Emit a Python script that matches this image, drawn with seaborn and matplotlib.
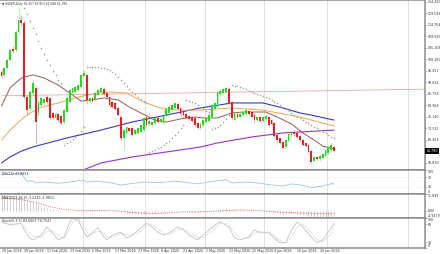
import numpy as np
import pandas as pd
import matplotlib
matplotlib.use("Agg")
import matplotlib.pyplot as plt
import matplotlib.transforms as mtransforms
import seaborn as sns

# ---- daily candles (one entry per trading day) ----
opens = [95.0, 93.8, 96.7, 100.0, 104.6, 104.2, 111.8, 116.9, 115.7, 84.5,
         79.5, 86.0, 88.3, 77.8, 81.1, 82.0, 84.5, 84.0, 77.8, 75.7,
         77.3, 76.5, 74.0, 78.2, 82.4, 86.2, 86.6, 87.4, 88.7, 93.3,
         93.7, 83.0, 84.0, 83.5, 85.5, 86.8, 88.0, 86.2, 84.5, 82.2,
         82.0, 79.9, 76.1, 67.3, 69.4, 71.5, 71.5, 69.0, 69.4, 69.8,
         70.6, 76.1, 73.0, 72.7, 73.6, 75.7, 74.0, 73.6, 76.5, 77.8,
         79.0, 80.0, 81.6, 79.9, 78.6, 77.3, 76.5, 76.1, 75.7, 73.6,
         71.5, 72.7, 74.0, 74.4, 76.1, 79.5, 80.3, 85.8, 86.2, 86.6,
         88.0, 82.4, 75.0, 77.3, 76.1, 76.9, 77.3, 78.6, 78.2, 77.0,
         74.8, 76.1, 74.4, 75.2, 76.1, 74.8, 73.6, 68.5, 67.3, 65.6,
         63.5, 66.0, 68.5, 69.8, 69.4, 68.1, 66.4, 65.2, 64.4, 61.8,
         57.6, 59.3, 58.4, 59.0, 59.7, 60.9, 62.2, 63.457]
closes = [93.5, 96.7, 100.0, 104.2, 104.0, 111.8, 116.9, 115.7, 84.5, 79.0,
          86.6, 90.4, 74.0, 82.4, 84.0, 83.7, 82.4, 75.7, 75.7, 77.5,
          74.8, 73.6, 79.0, 84.1, 87.4, 88.3, 88.7, 89.5, 93.7, 94.6,
          83.2, 84.1, 83.0, 86.0, 87.4, 88.3, 85.8, 84.5, 81.1, 80.3,
          79.5, 77.0, 67.3, 70.6, 71.9, 70.2, 68.5, 70.6, 71.5, 72.7,
          75.7, 72.7, 74.4, 74.0, 75.7, 74.0, 75.3, 76.5, 79.5, 80.3,
          81.1, 82.0, 79.5, 77.3, 76.9, 75.7, 75.3, 74.4, 72.7, 71.5,
          73.2, 74.8, 75.7, 77.0, 81.1, 82.0, 86.6, 87.0, 87.8, 88.3,
          82.0, 75.7, 77.8, 76.1, 77.5, 78.2, 79.0, 77.3, 76.1, 74.8,
          76.1, 74.4, 76.0, 76.5, 72.7, 73.2, 68.1, 66.4, 65.2, 63.1,
          66.4, 69.0, 69.8, 68.9, 67.7, 66.4, 64.4, 63.9, 61.4, 57.2,
          59.3, 58.6, 59.7, 60.5, 62.2, 63.5, 64.4, 61.78]
highs = [96.2, 97.4, 100.8, 105.0, 106.0, 112.6, 121.9, 119.0, 117.0, 85.5,
         87.5, 92.0, 89.0, 83.2, 84.8, 84.5, 85.3, 84.6, 78.4, 78.2,
         77.9, 77.0, 79.6, 84.8, 88.0, 88.9, 89.3, 90.1, 94.3, 95.9,
         94.2, 84.7, 84.6, 86.6, 88.0, 89.0, 88.6, 86.8, 85.0, 82.8,
         82.6, 80.5, 76.7, 71.2, 72.5, 72.1, 72.0, 71.2, 72.1, 73.3,
         76.3, 76.7, 75.0, 74.6, 76.3, 76.3, 75.9, 77.1, 80.1, 80.9,
         81.7, 82.6, 82.2, 80.5, 79.2, 77.9, 77.1, 76.7, 76.3, 74.2,
         73.8, 75.4, 76.3, 77.6, 81.7, 82.6, 87.2, 87.6, 88.4, 89.0,
         88.6, 83.0, 78.4, 77.9, 78.1, 78.8, 79.6, 79.2, 78.8, 77.6,
         76.7, 76.7, 76.6, 77.1, 76.7, 75.4, 74.2, 69.1, 67.9, 66.2,
         67.0, 69.6, 70.4, 70.4, 70.0, 68.7, 67.0, 65.8, 65.0, 62.4,
         59.9, 59.9, 60.3, 61.1, 62.8, 64.1, 65.0, 63.853]
lows = [92.6, 93.0, 96.0, 99.5, 103.2, 103.6, 111.0, 114.5, 83.5, 77.0,
        78.8, 85.2, 65.2, 76.5, 80.2, 81.0, 81.6, 74.8, 75.0, 75.0,
        74.0, 72.8, 73.2, 77.6, 81.8, 85.6, 86.0, 86.8, 88.2, 92.7,
        81.5, 82.4, 82.4, 83.0, 85.0, 86.3, 85.2, 84.0, 80.5, 79.7,
        79.0, 76.4, 66.5, 62.2, 68.8, 69.6, 68.0, 68.4, 68.9, 69.2,
        70.0, 72.1, 72.4, 72.1, 73.0, 73.4, 73.4, 73.0, 76.0, 77.2,
        78.4, 79.4, 79.0, 76.7, 76.3, 75.1, 74.7, 73.8, 72.1, 70.9,
        70.9, 72.1, 73.4, 73.8, 75.5, 78.9, 79.7, 85.2, 85.6, 86.0,
        81.4, 75.0, 74.4, 75.5, 75.5, 76.3, 76.7, 76.7, 75.5, 74.2,
        74.2, 73.8, 73.8, 74.6, 72.1, 72.6, 67.5, 65.8, 64.6, 62.5,
        62.9, 65.4, 67.9, 68.3, 67.1, 65.8, 63.8, 63.3, 60.8, 56.83,
        57.0, 58.0, 57.8, 58.4, 59.1, 60.3, 61.6, 61.688]

# ---- moving averages (vertices) ----
brown_x = [0, 3, 7, 11, 15, 20, 24, 28, 32, 36, 41, 45, 49, 54, 58, 63, 68, 71, 76, 81,
           85, 90, 93, 97, 102, 106, 110, 113, 117]
brown_ma = [80.7, 88.3, 92.5, 93.8, 92.5, 89.5, 86.2, 82.8, 83.3, 84.1, 83.3, 80.3, 77.8, 74.8,
            74.0, 75.3, 76.1, 75.7, 75.7, 77.8, 78.2, 78.2, 78.2, 76.1, 73.2, 69.4, 66.4, 63.9, 62.7]
orange_x = [0, 3, 8, 13, 20, 27, 34, 38, 44, 50, 56, 62, 70, 81, 92, 105, 117]
orange_ma = [66.4, 70.6, 76.1, 79.9, 82.0, 84.5, 86.2, 86.6, 86.2, 82.4, 79.9, 79.0, 79.0,
             79.9, 79.0, 76.1, 72.3]
blue_x = [0, 3, 7, 11, 23, 35, 46, 58, 70, 81, 92, 99, 105, 109, 117]
blue_ma = [56.8, 59.3, 61.8, 63.5, 67.3, 70.6, 74.0, 76.9, 79.9, 82.0, 82.0, 79.9, 77.8, 76.9, 74.8]
purple_x = [28, 35, 46, 58, 70, 76, 88, 99, 105, 117]
purple_ma = [53.5, 56.8, 59.3, 61.4, 63.5, 65.2, 67.7, 69.4, 69.8, 70.6]
trend_x = [0, 149]
trend = [85.0, 87.8]

# parabolic SAR dots, bars 8..117
sar_first = 8
sar = [121.9, 119.3, 116.5, 113.6, 110.8, 108.0, 105.3, 102.7, 100.2, 97.8, 95.6, 93.6, 91.8, 90.2,
       64.5, 65.2, 66.0, 66.8, 67.8, 69.0, 70.4, 72.0,
       97.2, 97.2, 97.1, 97.0, 96.9, 96.8, 96.6, 96.3, 95.8, 95.0, 94.0, 92.8, 91.5, 90.2, 89.0,
       87.8, 86.7, 85.6, 84.6, 83.7, 82.9, 82.1,
       61.4, 61.8, 62.3, 62.9, 63.5, 64.2, 65.0, 66.0, 67.2, 68.6, 70.0, 71.4, 72.6,
       83.3, 83.0, 82.5, 82.0, 81.2, 80.3, 79.5, 78.7, 78.0,
       71.0, 71.4, 72.0, 72.8, 74.0, 75.4, 77.0,
       89.6, 89.3, 89.0, 88.6, 88.3, 87.8, 87.2, 86.6, 86.2, 85.8, 85.4, 85.0, 84.5, 84.1, 83.4,
       82.6, 81.8, 81.0, 80.2, 79.4, 78.6, 77.8, 77.0, 76.2, 75.6, 75.0, 74.2, 73.5, 72.7, 72.0,
       71.3, 70.6, 69.9, 69.2, 68.5, 67.9, 67.3]

# ---- RSI(14) ----
rsi_x = [0, 3, 7, 9, 11, 12, 15, 20, 22, 29, 30, 33, 38, 42, 46, 50, 56, 61, 65, 69,
         74, 79, 81, 86, 90, 95, 99, 102, 106, 109, 113, 116, 117]
rsi = [79, 83, 85, 52, 56, 46, 50, 45, 47, 58, 50, 53, 48, 37, 44, 50, 47, 54, 48, 42,
       52, 60, 46, 50, 46, 38, 33, 42, 36, 27, 33, 43, 41.8854]

# ---- MACD(12,26,9): histogram per bar + dotted signal ----
macd_hist = [11.899, 11.8, 11.5, 11.0, 10.5, 10.2, 10.0, 9.8, 9.0, 8.0,
             7.2, 6.4, 5.5, 4.6, 3.7, 2.9, 2.2, 1.6, 1.1, 0.7,
             0.3, 0.0, -0.2, -0.3, -0.2, 0.0, 0.2, 0.4, 0.6, 0.8,
             0.7, 0.6, 0.5, 0.5, 0.5, 0.5, 0.4, 0.2, 0.0, -0.3,
             -0.6, -0.9, -1.4, -1.7, -1.9, -2.1, -2.3, -2.4, -2.4, -2.4,
             -2.2, -2.1, -2.0, -1.9, -1.8, -1.7, -1.5, -1.3, -1.0, -0.7,
             -0.4, -0.2, -0.1, -0.1, -0.2, -0.3, -0.4, -0.5, -0.7, -0.9,
             -0.9, -0.8, -0.6, -0.4, 0.0, 0.3, 0.8, 1.2, 1.5, 1.8,
             1.7, 1.3, 1.1, 0.9, 0.8, 0.7, 0.6, 0.5, 0.3, 0.1,
             0.0, -0.2, -0.3, -0.4, -0.6, -0.8, -1.2, -1.5, -1.9, -2.3,
             -2.4, -2.3, -2.2, -2.2, -2.3, -2.5, -2.8, -3.0, -3.3, -4.0,
             -4.6, -4.9479, -4.8, -4.6, -4.3, -3.9, -3.5, -3.2245]
macd_sig_x = [0, 7, 13, 17, 22, 29, 35, 41, 47, 53, 59, 64, 70, 77, 84, 91, 98, 105, 111, 117]
macd_sig = [9.1, 8.0, 5.6, 3.0, 1.0, 0.2, 0.4, 0.0, -1.2, -1.8, -1.4, -0.6, -0.6, 0.0, 0.8, 0.2,
            -0.8, -1.4, -1.8, -1.98]

# ---- Stochastic(5,3,3) ----
stoch_x = [0, 3, 7, 8, 10, 11, 14, 16, 18, 20, 22, 24, 25, 27, 28, 30, 31, 34, 36, 37,
           39, 42, 44, 46, 49, 51, 52, 55, 57, 59, 62, 64, 66, 69, 71, 74, 76, 77, 80, 82,
           84, 87, 89, 91, 94, 96, 98, 100, 102, 104, 106, 109, 111, 113, 116, 117]
stoch_k = [87, 77, 83, 60, 33, 27, 43, 70, 50, 27, 37, 87, 98, 93, 73, 37, 43, 67, 37, 27,
           43, 53, 33, 43, 67, 83, 77, 53, 43, 50, 70, 60, 43, 27, 43, 67, 83, 87, 70, 33,
           27, 37, 60, 50, 53, 33, 17, 17, 60, 87, 70, 37, 17, 27, 67, 83.6667]
stoch_d = [85, 80, 80, 72, 50, 38, 35, 55, 58, 40, 30, 65, 85, 95, 88, 55, 45, 55, 50, 38,
           35, 48, 45, 40, 55, 75, 80, 65, 50, 47, 60, 65, 52, 35, 35, 55, 75, 83, 80, 52,
           33, 32, 48, 55, 52, 42, 25, 17, 35, 70, 80, 52, 28, 20, 47, 70.7547]

date_labels = ["20 Jan 2026", "30 Jan 2026", "11 Feb 2026", "23 Feb 2026", "5 Mar 2026",
               "17 Mar 2026", "27 Mar 2026", "8 Apr 2026", "21 Apr 2026", "1 May 2026",
               "13 May 2026", "25 May 2026", "4 Jun 2026", "16 Jun 2026", "26 Jun 2026"]
date_bars = [0, 8, 16, 24, 32, 40, 48, 56, 64, 72, 80, 88, 96, 104, 112]
month_lines = [28.5, 50.5, 71.5, 92.5, 114.5, 143]
price_ticks = [124.420, 119.592, 114.764, 109.936, 105.108, 100.280, 95.452, 90.624,
               85.796, 80.968, 76.140, 71.312, 66.484, 56.830]
last_price = 61.780

sns.set_theme(style="white")
plt.rcParams['font.family'] = ['DejaVu Sans']
FS = 2.3
TXT = "#333333"
EDGE = "#8c8c8c"

fig = plt.figure(figsize=(4.4, 2.54), dpi=100)
W, H, R = 440.0, 254.0, 425.0


def panel(top, bottom):
    a = fig.add_axes([0.0, 1 - bottom / H, R / W, (bottom - top) / H])
    a.set_xlim(-0.53, 149.0)
    a.set_facecolor("white")
    a.spines["left"].set_visible(False)
    for s in ["top", "bottom", "right"]:
        a.spines[s].set_color(EDGE)
        a.spines[s].set_linewidth(1.1)
    a.yaxis.tick_right()
    a.tick_params(axis="y", labelsize=FS, pad=0.6, length=1.2, width=0.4,
                  colors=EDGE, labelcolor=TXT)
    a.tick_params(axis="x", length=0, labelbottom=False)
    for m in month_lines:
        a.axvline(m, color="#d4d4d4", linewidth=0.5, zorder=0)
    return a


ax = panel(0, 170)
ax_rsi = panel(170, 194)
ax_macd = panel(194, 218)
ax_st = panel(218, 248)

# ---- main price panel ----
bars = np.arange(len(closes))
o, c, h, l = map(np.array, (opens, closes, highs, lows))
up = c >= o
body_col = np.where(up, "#1edc1e", "#ee1c1c")
wick_col = np.where(up, "#8ee88e", "#f08a8a")
ax.vlines(bars, l, h, colors=wick_col, linewidth=0.5, zorder=3)
body_low = np.minimum(o, c)
body_h = np.maximum(np.abs(c - o), 0.4)
ax.bar(bars, body_h, bottom=body_low, width=0.64, color=body_col, linewidth=0, zorder=4)

sns.lineplot(x=trend_x, y=trend, ax=ax, color="#f2a4a0", linewidth=0.6, sort=False,
             estimator=None, legend=False, zorder=2)
sns.lineplot(x=purple_x, y=purple_ma, ax=ax, color="#9b30d0", linewidth=0.8, sort=False,
             estimator=None, legend=False, zorder=2)
sns.lineplot(x=blue_x, y=blue_ma, ax=ax, color="#3838c0", linewidth=0.8, sort=False,
             estimator=None, legend=False, zorder=2)
sns.lineplot(x=orange_x, y=orange_ma, ax=ax, color="#f0a55a", linewidth=0.7, sort=False,
             estimator=None, legend=False, zorder=2)
sns.lineplot(x=brown_x, y=brown_ma, ax=ax, color="#a0584e", linewidth=0.7, sort=False,
             estimator=None, legend=False, zorder=2)
sns.scatterplot(x=np.arange(sar_first, sar_first + len(sar)), y=sar, ax=ax, s=1.3,
                color="#a0a0a0", linewidth=0, legend=False, zorder=2)

ax.set_yticks(price_ticks)
ax.set_yticklabels([f"{v:.3f}" for v in price_ticks])
ax.set_ylim(53.83, 125.26)
ax.set_xlabel("")
ax.set_ylabel("")
ax.text(1.003, last_price, f"{last_price:.3f}", fontsize=FS, color="white", ha="left", va="center",
        transform=mtransforms.blended_transform_factory(ax.transAxes, ax.transData),
        bbox=dict(facecolor="black", edgecolor="none", pad=0.6), zorder=10, clip_on=False)
ax.text(0.004, 0.99, "\u25bc SILVER,Daily 63.457 63.853 61.688 61.780", fontsize=2.1,
        color=TXT, ha="left", va="top", transform=ax.transAxes)

# ---- RSI ----
ax_rsi.set_ylim(0, 100)
sns.lineplot(x=rsi_x, y=rsi, ax=ax_rsi, color="#9cc4ea", linewidth=0.6, sort=False,
             estimator=None, legend=False)
for lv in (70, 30):
    ax_rsi.axhline(lv, color="#e4e4e4", linewidth=0.4, linestyle=(0, (1, 1)), zorder=0)
ax_rsi.set_yticks([100, 70, 30, 0])
ax_rsi.set_yticklabels(["100", "70", "30", "0"])
ax_rsi.text(0.004, 0.93, "RSI(14) 41.8854", fontsize=FS, color=TXT, ha="left", va="top",
            transform=ax_rsi.transAxes)

# ---- MACD ----
ax_macd.set_ylim(-4.9479, 11.899)
ax_macd.vlines(bars, 0, macd_hist, colors="#c9b8b8", linewidth=0.5)
sns.lineplot(x=macd_sig_x, y=macd_sig, ax=ax_macd, color="#e05a5a", linewidth=0.6,
             linestyle=(0, (1, 1.2)), sort=False, estimator=None, legend=False)
ax_macd.set_yticks([11.899, 0.0, -4.9479])
ax_macd.set_yticklabels(["11.899", "0.00", "-4.9479"])
ax_macd.text(0.004, 0.93, "MACD(12,26,9) -3.2245 -1.9812", fontsize=FS, color=TXT,
             ha="left", va="top", transform=ax_macd.transAxes)

# ---- Stochastic ----
ax_st.set_ylim(0, 100)
sns.lineplot(x=stoch_x, y=stoch_k, ax=ax_st, color="#c2c2c2", linewidth=0.6, sort=False,
             estimator=None, legend=False)
sns.lineplot(x=stoch_x, y=stoch_d, ax=ax_st, color="#cfcfcf", linewidth=0.6,
             linestyle=(0, (1.5, 1)), sort=False, estimator=None, legend=False)
ax_st.set_yticks([100, 80, 20, 0])
ax_st.set_yticklabels(["100", "80", "20", "0"])
ax_st.text(0.004, 0.95, "Stoch(5,3,3) 83.6667 70.7547", fontsize=FS, color=TXT, ha="left",
           va="top", transform=ax_st.transAxes)
ax_st.set_xticks(date_bars)
ax_st.set_xticklabels(date_labels)
ax_st.tick_params(axis="x", labelbottom=True, labelsize=FS, pad=0.8, labelcolor=TXT)
for lbl in ax_st.get_xticklabels():
    lbl.set_ha("left")

# edge labels sit inside the panel like the original
for a in (ax_rsi, ax_macd, ax_st):
    labels = a.get_yticklabels()
    labels[0].set_va("top")
    labels[-1].set_va("bottom")
    a.set_xlabel("")
    a.set_ylabel("")

fig.savefig("out.png", dpi=100, facecolor="white")
